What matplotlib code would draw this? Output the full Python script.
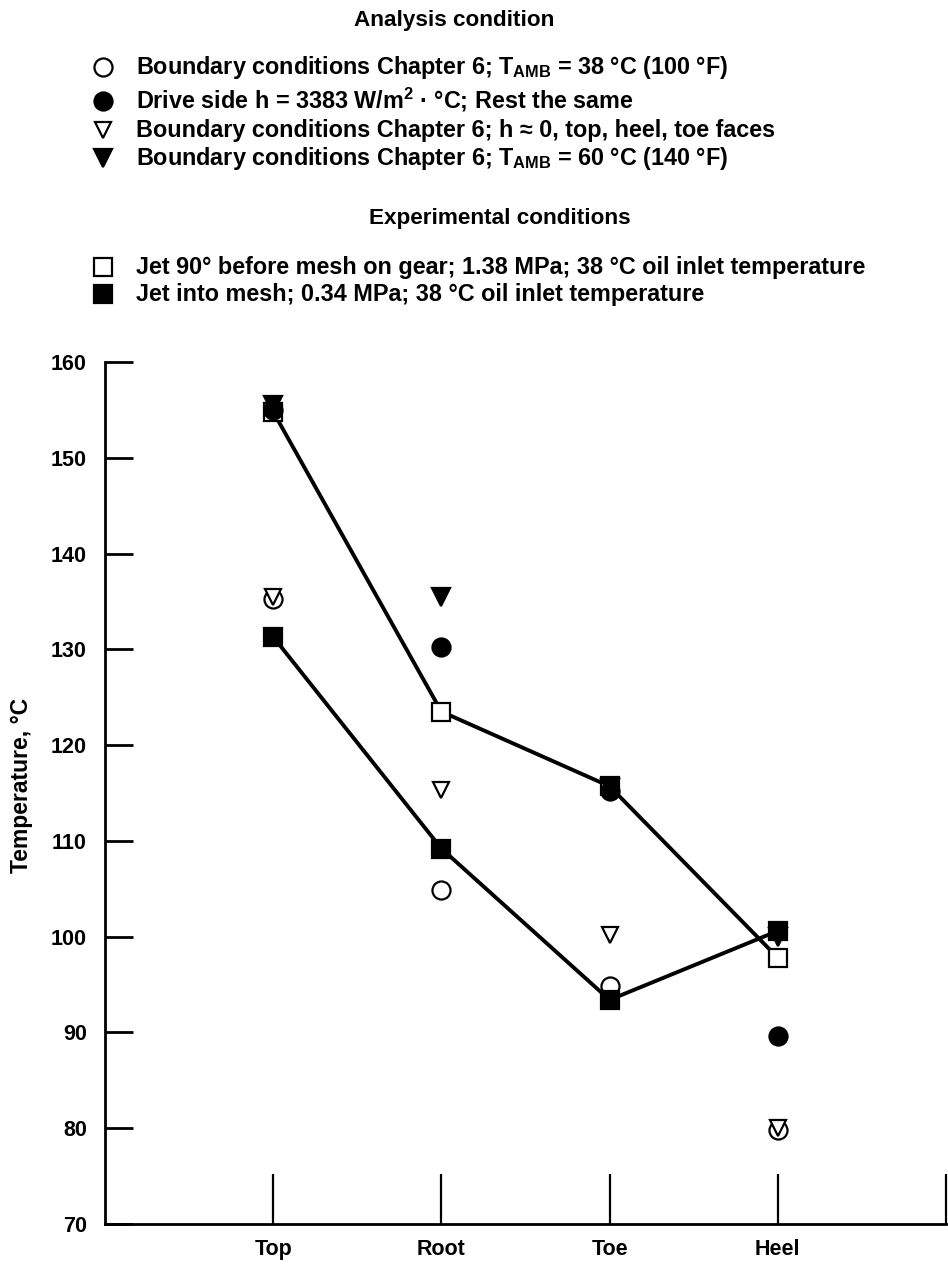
import matplotlib
matplotlib.use("Agg")
import matplotlib.pyplot as plt

plt.rcParams["font.family"] = ["Liberation Sans", "DejaVu Sans"]
plt.rcParams["font.weight"] = "bold"
plt.rcParams["mathtext.fontset"] = "custom"
plt.rcParams["mathtext.rm"] = "Liberation Sans:bold"
plt.rcParams["mathtext.it"] = "Liberation Sans:italic:bold"
plt.rcParams["mathtext.bf"] = "Liberation Sans:bold"

# Measurement locations on the gear tooth
locations = ["Top", "Root", "Toe", "Heel"]

# Analysis results, temperature in deg C
bc_38c = [135.3, 104.9, 94.9, 79.8]          # open circle
drive_side_h = [155.0, 130.2, 115.2, 89.6]   # filled circle
h_zero_faces = [135.5, 115.3, 100.2, 80.0]   # open triangle
bc_60c = [155.5, 135.5, 115.5, 100.0]        # filled triangle

# Experimental results, temperature in deg C
jet_90_before = [154.8, 123.5, 115.7, 97.8]  # open square
jet_into_mesh = [131.3, 109.2, 93.4, 100.6]  # filled square

y_ticks = [70, 80, 90, 100, 110, 120, 130, 140, 150, 160]

W, H = 948, 1267
fig = plt.figure(figsize=(W / 100, H / 100), dpi=100)

ax = fig.add_axes([105 / W, 43 / H, 841 / W, 862 / H])
xpos = list(range(1, len(locations) + 1))

line_kw = dict(color="black", lw=2.8, zorder=2)
ax.plot(xpos, jet_90_before, **line_kw)
ax.plot(xpos, jet_into_mesh, **line_kw)

mk = dict(ls="none", ms=13, mew=1.6, mec="black", zorder=3)
ax.plot(xpos, jet_90_before, marker="s", mfc="white", **mk)
ax.plot(xpos, bc_38c, marker="o", mfc="white", **mk)
ax.plot(xpos, h_zero_faces, marker="v", mfc="white", **{**mk, "ms": 12})
ax.plot(xpos, bc_60c, marker="v", mfc="black", **mk)
ax.plot(xpos, drive_side_h, marker="o", mfc="black", **mk)
ax.plot(xpos, jet_into_mesh, marker="s", mfc="black", **mk)

ax.set_xlim(0, len(locations) + 1)
ax.set_ylim(70, 160)
ax.set_xticks(xpos + [len(locations) + 1])
ax.set_xticklabels(locations + [""])
ax.set_yticks(y_ticks)
ax.set_yticklabels([str(v) for v in y_ticks])

for side in ("top", "right"):
    ax.spines[side].set_visible(False)
for side in ("left", "bottom"):
    ax.spines[side].set_linewidth(2.0)

ax.tick_params(axis="y", direction="in", length=20, width=2.0, pad=13,
               labelsize=15.5)
ax.tick_params(axis="x", direction="in", length=36, width=1.6, pad=11,
               labelsize=15.5)

ax.set_ylabel("Temperature, \u00b0C", fontsize=16.5, fontweight="bold")
ax.yaxis.set_label_coords(-0.086, 0.509)

# Key above the plot, laid out in pixel units of the figure
key = fig.add_axes([0, 0, 1, 1], zorder=-1)
key.set_xlim(0, W)
key.set_ylim(H, 0)
key.axis("off")

fs_head = 16.2
fs = 16.8
sym_x, text_x = 103, 136

key.text(454, 26, "Analysis condition", ha="center", va="baseline",
         fontsize=fs_head, fontweight="bold")
key.text(500, 224, "Experimental conditions", ha="center", va="baseline",
         fontsize=fs_head, fontweight="bold")

entries = [
    (74, "o", "white", 13,
     "Boundary conditions Chapter 6; T$_{\\mathrm{AMB}}$ = 38 \u00b0C (100 \u00b0F)"),
    (108, "o", "black", 13,
     "Drive side h = 3383 W/m$^{\\mathrm{2}}$ \u00b7 \u00b0C; Rest the same"),
    (137, "v", "white", 11,
     "Boundary conditions Chapter 6; h \u2248 0, top, heel, toe faces"),
    (165, "v", "black", 13,
     "Boundary conditions Chapter 6; T$_{\\mathrm{AMB}}$ = 60 \u00b0C (140 \u00b0F)"),
    (274, "s", "white", 13,
     "Jet 90\u00b0 before mesh on gear; 1.38 MPa; 38 \u00b0C oil inlet temperature"),
    (301, "s", "black", 13,
     "Jet into mesh; 0.34 MPa; 38 \u00b0C oil inlet temperature"),
]
for base, marker, fill, size, label in entries:
    key.plot([sym_x], [base - 7.5], marker=marker, ms=size, mfc=fill,
             mec="black", mew=1.6, ls="none")
    key.text(text_x, base, label, ha="left", va="baseline", fontsize=fs,
             fontweight="bold")

fig.savefig("out.png", dpi=100)
